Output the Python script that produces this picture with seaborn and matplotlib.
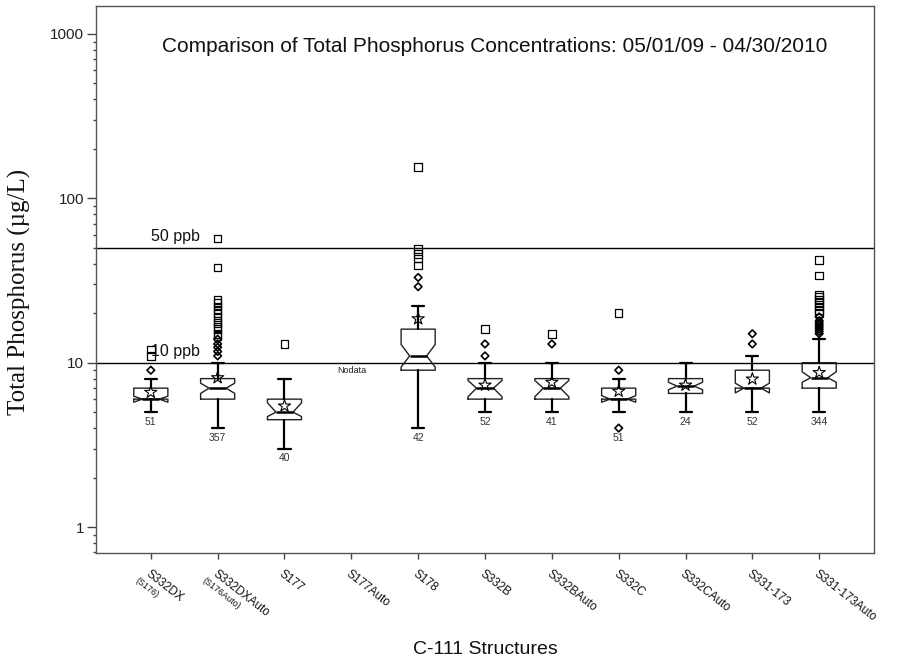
import numpy as np
import pandas as pd
import matplotlib
matplotlib.use("Agg")
import matplotlib.pyplot as plt
import seaborn as sns
from matplotlib.ticker import LogLocator, NullFormatter, FixedLocator, FixedFormatter

# ---------------- data ----------------
categories = ["S332DX", "S332DXAuto", "S177", "S177Auto", "S178", "S332B",
              "S332BAuto", "S332C", "S332CAuto", "S331-173", "S331-173Auto"]
sub_labels = ["(S176)", "(S176Auto)", "", "", "", "", "", "", "", "", ""]
counts = [51, 357, 40, None, 42, 52, 41, 51, 24, 52, 344]
nan = np.nan
q1 =      [6.0, 6.0, 4.5, nan, 9.0, 6.0, 6.0, 6.0, 6.5, 7.0, 7.0]
median =  [6.0, 7.0, 5.0, nan, 11.0, 7.0, 7.0, 6.0, 7.2, 7.0, 8.1]
q3 =      [7.0, 8.0, 6.0, nan, 16.0, 8.0, 8.0, 7.0, 8.0, 9.0, 10.0]
whis_lo = [5.0, 4.0, 3.0, nan, 4.0, 5.0, 5.0, 5.0, 5.0, 5.0, 5.0]
whis_hi = [8.0, 10.0, 8.0, nan, 22.0, 10.0, 10.0, 8.0, 10.0, 11.0, 14.0]
notch_lo = [5.75, 6.5, 4.7, nan, 9.4, 6.2, 6.2, 5.75, 6.85, 6.55, 7.6]
notch_hi = [6.25, 7.5, 5.7, nan, 12.9, 7.8, 7.8, 6.3, 7.6, 7.5, 8.8]
means =   [6.6, 8.1, 5.45, nan, 18.5, 7.3, 7.6, 6.7, 7.3, 7.95, 8.7]

mild_outliers = {
    "S332DX": [9],
    "S332DXAuto": [11, 11.7, 12.4, 13, 13.9],
    "S178": [29, 33],
    "S332B": [11, 13],
    "S332BAuto": [13],
    "S332C": [9, 4],
    "S331-173": [13, 15],
    "S331-173Auto": [15, 15.5, 16, 16.5, 17, 17.5, 18, 19],
}
extreme_outliers = {
    "S332DX": [11, 12],
    "S332DXAuto": [14.5, 15, 16, 16.5, 17.5, 18, 19, 20, 21, 22, 23, 24, 38, 57],
    "S177": [13],
    "S178": [39, 43, 46, 49, 155],
    "S332B": [16],
    "S332BAuto": [15],
    "S332C": [20],
    "S331-173Auto": [20, 21, 22, 23, 24, 25, 26, 34, 42],
}

ref_values = [50, 10]
ref_labels = ["50 ppb", "10 ppb"]
nodata_label = "Nodata"
nodata_value = 8.9
title_text = "Comparison of Total Phosphorus Concentrations: 05/01/09 - 04/30/2010"
y_ticks = [1, 10, 100, 1000]
y_tick_labels = ["1", "10", "100", "1000"]
x_title = "C-111 Structures"
y_title = "Total Phosphorus (\u00b5g/L)"

# ---------------- figure ----------------
sns.set_theme(style="ticks")
plt.rcParams["font.family"] = ["Liberation Sans", "DejaVu Sans"]

fig = plt.figure(figsize=(8.99, 6.72), dpi=100)
ax = fig.add_axes([96 / 899, 1 - 553 / 672, 778 / 899, 547 / 672])

positions = list(range(len(categories)))

stats = []
box_pos = []
for i, c in enumerate(categories):
    if counts[i] is None:
        continue
    stats.append(dict(med=median[i], q1=q1[i], q3=q3[i], whislo=whis_lo[i],
                      whishi=whis_hi[i], cilo=notch_lo[i], cihi=notch_hi[i],
                      fliers=[], label=c))
    box_pos.append(i)

ax.bxp(stats, positions=box_pos, widths=0.51, shownotches=True,
       showfliers=False, showmeans=False, capwidths=0.18,
       boxprops=dict(color="#222222", lw=1.0),
       medianprops=dict(color="black", lw=1.8),
       whiskerprops=dict(color="black", lw=1.6),
       capprops=dict(color="black", lw=1.6))

# outliers and means via seaborn
rows = []
for c, vals in mild_outliers.items():
    for v in vals:
        rows.append(dict(pos=categories.index(c), value=v, kind="mild"))
for c, vals in extreme_outliers.items():
    for v in vals:
        rows.append(dict(pos=categories.index(c), value=v, kind="extreme"))
out_df = pd.DataFrame(rows)
mean_df = pd.DataFrame(dict(pos=positions, value=means)).dropna()

sns.scatterplot(data=out_df[out_df.kind == "extreme"], x="pos", y="value",
                marker="s", s=30, facecolor="none", edgecolor="black",
                linewidth=0.9, ax=ax, legend=False, zorder=4)
sns.scatterplot(data=out_df[out_df.kind == "mild"], x="pos", y="value",
                marker="D", s=15, facecolor="none", edgecolor="black",
                linewidth=1.2, ax=ax, legend=False, zorder=4)
sns.scatterplot(data=mean_df, x="pos", y="value", marker="*", s=85,
                facecolor="none", edgecolor="black", linewidth=0.8, ax=ax,
                legend=False, zorder=5)

# reference lines
for v, lab in zip(ref_values, ref_labels):
    ax.axhline(v, color="black", lw=1.0, zorder=1)
    ax.annotate(lab, xy=(0.0, v), xytext=(0, 5), textcoords="offset points",
                ha="left", va="baseline", fontsize=11.5, color="#111111")

# count labels
for i, c in enumerate(categories):
    if counts[i] is None:
        continue
    lows = [whis_lo[i]] + mild_outliers.get(c, []) + extreme_outliers.get(c, [])
    ax.annotate(str(counts[i]), xy=(i, min(lows)), xytext=(0, -7),
                textcoords="offset points", ha="center", va="center",
                fontsize=7.5, color="#333333")

# no data label
ax.text(categories.index("S177Auto"), nodata_value, nodata_label,
        ha="center", va="center", fontsize=6.5, color="#222222")

# axes scale / ticks
ax.set_yscale("log")
ax.set_ylim(0.695, 1480)
ax.set_xlim(-0.82, 10.82)
ax.yaxis.set_major_locator(FixedLocator(y_ticks))
ax.yaxis.set_major_formatter(FixedFormatter(y_tick_labels))
ax.yaxis.set_minor_locator(LogLocator(base=10, subs=np.arange(2, 10)))
ax.yaxis.set_minor_formatter(NullFormatter())
ax.tick_params(axis="y", which="major", length=6.5, width=1, color="#444444",
               labelsize=11, pad=2, labelcolor="#222222")
ax.tick_params(axis="y", which="minor", length=2.5, width=1, color="#444444")
ax.set_xticks(positions)
ax.set_xticklabels(categories, rotation=-38, ha="left", va="top",
                   rotation_mode="anchor", fontsize=8.5, color="#111111")
ax.tick_params(axis="x", which="major", length=4.5, width=1, color="#444444",
               pad=6)

for i, s in enumerate(sub_labels):
    if s:
        ax.annotate(s, xy=(i, 0), xycoords=("data", "axes fraction"),
                    xytext=(-8.5, -16.5), textcoords="offset points",
                    rotation=-38, ha="left", va="top", rotation_mode="anchor",
                    fontsize=6.5, color="#111111")

for sp in ax.spines.values():
    sp.set_visible(True)
    sp.set_color("#555555")
    sp.set_linewidth(1.0)

ax.set_xlabel(x_title, fontsize=14, color="#111111", va="center")
ax.xaxis.set_label_coords(0.5, -0.177)
ax.set_ylabel(y_title, fontsize=18, family=["Liberation Serif", "DejaVu Serif"],
              color="#111111", va="center")
ax.yaxis.set_label_coords(-0.099, 0.477)

# title inside the plot area
ax.text((494.5 - 96) / 778, (553 - 46) / 547, title_text,
        transform=ax.transAxes, ha="center", va="center",
        fontsize=15, color="#111111")

fig.savefig("out.png", dpi=100)
